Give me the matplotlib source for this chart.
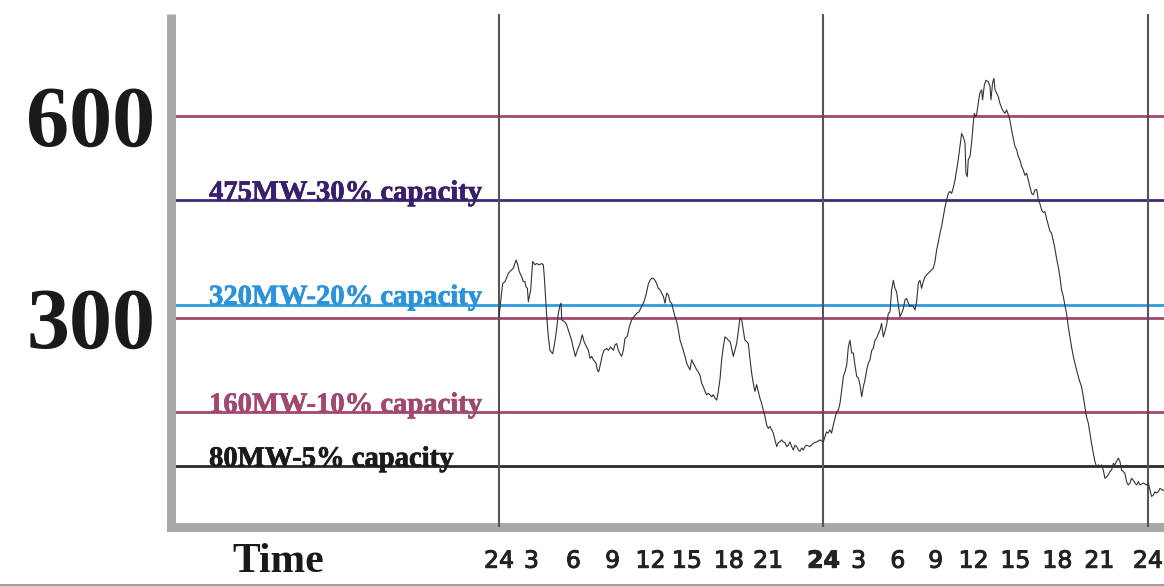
import matplotlib.pyplot as plt
import matplotlib.patheffects as pe
from matplotlib.lines import Line2D

# load curve, two days (hour 0 = midnight "24" of the first day)
hours = [
    0.00, 0.27, 0.44, 0.69, 0.81, 1.06, 1.26, 1.36, 1.50, 1.68, 1.80, 1.92, 2.00, 2.10, 2.17, 2.24,
    2.34, 2.49, 2.66, 2.78, 2.98, 3.16, 3.28, 3.35, 3.45, 3.53, 3.65, 3.77, 3.97, 4.07, 4.22, 4.31,
    4.39, 4.51, 4.59, 4.64, 4.88, 5.00, 5.13, 5.25, 5.37, 5.50, 5.65, 5.79, 5.99, 6.16, 6.29, 6.48,
    6.61, 6.73, 6.85, 6.98, 7.17, 7.27, 7.37, 7.52, 7.64, 7.77, 7.96, 8.09, 8.26, 8.46, 8.58, 8.70,
    8.83, 8.95, 9.07, 9.20, 9.32, 9.49, 9.64, 9.81, 9.98, 10.18, 10.35, 10.55, 10.72, 10.87, 11.05,
    11.17, 11.29, 11.41, 11.54, 11.66, 11.79, 11.91, 12.03, 12.16, 12.28, 12.40, 12.53, 12.65, 12.77,
    12.89, 13.02, 13.14, 13.27, 13.39, 13.51, 13.63, 13.76, 13.88, 14.00, 14.13, 14.25, 14.37, 14.50,
    14.62, 14.74, 14.87, 14.99, 15.11, 15.24, 15.36, 15.48, 15.61, 15.73, 15.85, 15.98, 16.10, 16.22,
    16.35, 16.47, 16.59, 16.72, 16.84, 16.96, 17.09, 17.21, 17.33, 17.45, 17.58, 17.70, 17.82, 17.95,
    18.07, 18.19, 18.32, 18.44, 18.56, 18.69, 18.81, 18.93, 19.06, 19.18, 19.30, 19.43, 19.55, 19.67,
    19.80, 19.92, 20.04, 20.17, 20.29, 20.41, 20.54, 20.66, 20.78, 20.91, 21.03, 21.15, 21.28, 21.40,
    21.52, 21.65, 21.77, 21.89, 22.02, 22.14, 22.26, 22.39, 22.51, 22.63, 22.76, 23.00, 23.25, 23.50,
    23.74, 23.99, 24.23, 24.35, 24.48, 24.60, 24.73, 24.85, 24.98, 25.10, 25.22, 25.35, 25.47, 25.59,
    25.72, 25.84, 25.96, 26.09, 26.21, 26.33, 26.46, 26.58, 26.70, 26.83, 26.95, 27.07, 27.20, 27.32,
    27.44, 27.57, 27.69, 27.81, 27.93, 28.06, 28.18, 28.30, 28.43, 28.55, 28.67, 28.80, 28.92, 29.04,
    29.17, 29.29, 29.41, 29.54, 29.66, 29.78, 29.91, 30.03, 30.15, 30.28, 30.40, 30.52, 30.65, 30.77,
    30.89, 31.02, 31.14, 31.26, 31.38, 31.51, 31.63, 31.88, 32.13, 32.25, 32.37, 32.50, 32.62, 32.74,
    32.87, 32.99, 33.11, 33.23, 33.36, 33.48, 33.60, 33.73, 33.85, 33.97, 34.10, 34.22, 34.34, 34.47,
    34.54, 34.64, 34.71, 34.84, 34.96, 35.08, 35.16, 35.25, 35.33, 35.45, 35.57, 35.70, 35.77, 35.90,
    36.02, 36.19, 36.32, 36.39, 36.51, 36.61, 36.69, 36.81, 36.93, 37.05, 37.18, 37.30, 37.42, 37.55,
    37.67, 37.79, 37.92, 38.04, 38.16, 38.29, 38.41, 38.53, 38.66, 38.78, 38.90, 39.03, 39.15, 39.27,
    39.40, 39.52, 39.64, 39.77, 39.89, 40.01, 40.14, 40.26, 40.38, 40.50, 40.63, 40.75, 40.87, 41.00,
    41.12, 41.24, 41.37, 41.49, 41.61, 41.74, 41.86, 41.98, 42.11, 42.23, 42.35, 42.48, 42.60, 42.72,
    42.85, 42.97, 43.09, 43.22, 43.34, 43.46, 43.59, 43.71, 43.83, 43.96, 44.08, 44.20, 44.33, 44.45,
    44.57, 44.70, 44.82, 44.94, 45.07, 45.19, 45.31, 45.44, 45.56, 45.68, 45.81, 45.93, 46.05, 46.18,
    46.30, 46.42, 46.55, 46.67, 46.79, 46.92, 47.04, 47.16, 47.29, 47.41, 47.66, 47.90, 48.03, 48.15,
    48.27, 48.40, 48.52, 48.64, 48.77, 48.89, 49.10, 49.30,
]
load_mw = [
    302, 351, 354, 366, 369, 374, 386, 381, 369, 361, 354, 354, 346, 344, 324, 332,
    341, 384, 379, 381, 379, 381, 379, 361, 327, 302, 272, 252, 247, 257, 277, 292,
    307, 319, 322, 297, 294, 290, 282, 275, 267, 255, 243, 252, 262, 275, 265, 257,
    252, 240, 243, 238, 233, 223, 220, 233, 245, 252, 255, 252, 257, 252, 260, 262,
    252, 247, 243, 252, 270, 273, 287, 297, 302, 307, 309, 317, 324, 334, 351,
    356, 359, 359, 356, 351, 344, 342, 337, 332, 322, 337, 334, 324, 322,
    312, 302, 295, 282, 267, 260, 252, 243, 233, 228, 223, 238, 233, 228,
    223, 220, 215, 203, 198, 191, 186, 188, 186, 183, 186, 181, 178, 191,
    210, 238, 257, 272, 270, 267, 265, 255, 243, 252, 262, 280, 300, 297,
    282, 267, 265, 262, 240, 218, 203, 191, 201, 191, 181, 173, 163, 154,
    141, 136, 139, 134, 129, 119, 109, 115, 116, 119, 116, 115, 109, 111,
    116, 109, 104, 111, 109, 104, 102, 107, 104, 109, 111, 109, 114, 116,
    119, 116, 131, 129, 134, 129, 141, 151, 161, 163, 173, 193, 213, 220,
    230, 257, 267, 248, 248, 230, 213, 211, 201, 183, 198, 208, 223, 233,
    238, 252, 255, 267, 270, 277, 282, 292, 272, 280, 290, 307, 309, 341,
    356, 344, 339, 319, 302, 307, 314, 327, 329, 322, 317, 319, 317, 312,
    324, 352, 356, 344, 354, 361, 364, 369, 374, 384, 401, 413, 426, 436,
    451, 465, 475, 485, 488, 485, 493, 505, 520, 535, 555, 574, 569, 560,
    515, 510, 535, 540, 560, 589, 604, 599, 602, 619, 634, 639, 624, 646,
    653, 651, 644, 624, 649, 656, 639, 634, 629, 619, 612, 607, 604, 609,
    602, 594, 579, 567, 555, 550, 540, 535, 525, 520, 512, 515, 505, 495,
    485, 483, 490, 491, 476, 470, 460, 457, 458, 448, 438, 429, 426, 415,
    403, 389, 376, 361, 342, 332, 319, 307, 287, 272, 257, 243, 233, 223,
    213, 205, 198, 183, 168, 153, 144, 129, 114, 99, 87, 79, 82, 79,
    82, 74, 62, 64, 67, 72, 74, 84, 82, 87, 92, 87, 74, 72,
    69, 57, 52, 55, 62, 59, 55, 52, 57, 52, 55, 52, 55, 45,
    35, 37, 42, 40, 42, 47, 44, 46,
]

# reference levels
grid_levels = [600, 300]
capacity_levels = [475, 320, 160, 80]
capacity_labels = ["475MW-30% capacity", "320MW-20% capacity",
                   "160MW-10% capacity", "80MW-5% capacity"]
line_colors = ["#3d2a78", "#2f9ae0", "#a3486f", "#2a2a2a"]
text_colors = ["#3a1f6a", "#2a93dc", "#a04870", "#1a1a1a"]
mauve = "#a3486f"

day_breaks = [0, 24, 48]
tick_hours = [0, 2.4, 5.5, 8.4, 11.2, 13.9, 17.0, 19.9, 24,
              26.6, 29.5, 32.3, 35.1, 38.2, 41.3, 44.4, 48]
tick_labels = ["24", "3", "6", "9", "12", "15", "18", "21", "24",
               "3", "6", "9", "12", "15", "18", "21", "24"]

W, H = 1164, 586
fig = plt.figure(figsize=(W / 100, H / 100), dpi=100)
ax = fig.add_axes([170.5 / W, (H - 526.5) / H, 1 - 170.5 / W, (526.5 - 14) / H])

for lv in grid_levels:
    ax.axhline(lv, color=mauve, lw=2.0, zorder=2)
for lv, c in zip(capacity_levels, line_colors):
    ax.axhline(lv, color=c, lw=2.0, zorder=2)
for d in day_breaks:
    ax.axvline(d, color="#555555", lw=1.5, zorder=3)

ax.plot(hours, load_mw, color="#333333", lw=0.8, zorder=4)

for lv, lab, c in zip(capacity_levels, capacity_labels, text_colors):
    ax.text(-21.45, lv, lab, color=c, fontsize=20.6, fontweight="bold",
            family="Liberation Serif", va="baseline", ha="left", zorder=5,
            path_effects=[pe.withStroke(linewidth=0.5, foreground=c)])

ax.set_xlim(-24.30, 49.19)
ax.set_ylim(-9.65, 751.5)

ax.set_yticks(grid_levels)
ax.set_yticklabels([str(v) for v in grid_levels], fontsize=62, fontweight="bold",
                   family="Liberation Serif", color="#1a1a1a")
ax.set_xticks(tick_hours)
ax.set_xticklabels(tick_labels, fontsize=17, family="DejaVu Sans", color="#222222")
for t in ax.get_xticklabels():
    t.set_path_effects([pe.withStroke(linewidth=0.7, foreground="#222222")])
ax.get_xticklabels()[8].set_fontweight("bold")
ax.tick_params(axis="y", length=0, pad=11)
ax.tick_params(axis="x", length=0, pad=16)

for s in ["top", "right"]:
    ax.spines[s].set_visible(False)
for s in ["left", "bottom"]:
    ax.spines[s].set_color("#a9a9a9")
    ax.spines[s].set_linewidth(6.5)
ax.spines["left"].set_capstyle("butt")
ax.spines["bottom"].set_capstyle("projecting")

fig.text(278 / W, (H - 572) / H, "Time", ha="center", va="baseline", fontsize=30,
         fontweight="bold", family="Liberation Serif", color="#1a1a1a")
fig.add_artist(Line2D([0, 1], [(H - 584.5) / H] * 2, transform=fig.transFigure,
                      color="#a0a0a0", lw=2.2))

fig.savefig("out.png", dpi=100)
